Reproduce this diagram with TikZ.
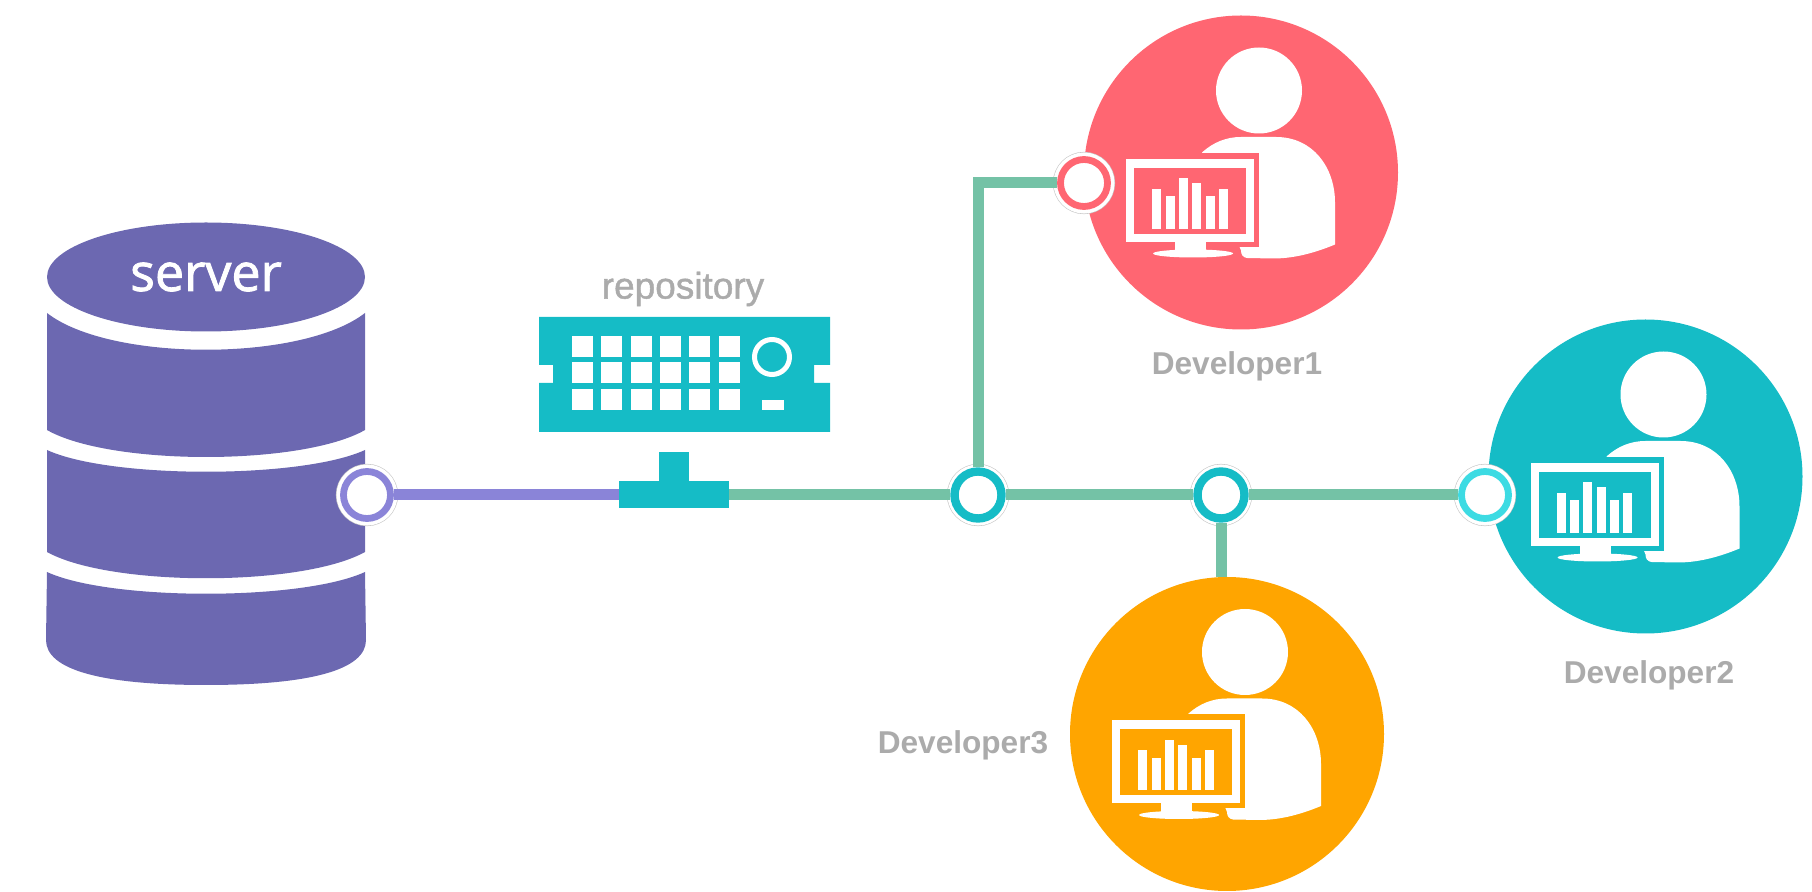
\documentclass[tikz,border=0pt]{standalone}
\usepackage{fontspec}
\setmainfont{Liberation Sans}
\newfontfamily\serverfont[FakeBold=1.6]{Open Sans}
\newfontfamily\repofont[FakeBold=1.2]{Liberation Sans}
\usepackage{xcolor}
\usetikzlibrary{shapes.geometric}
\definecolor{srvpurple}{HTML}{6C68B1}
\definecolor{linepurple}{HTML}{8A84D8}
\definecolor{linegreen}{HTML}{74C2A6}
\definecolor{repocyan}{HTML}{15BCC6}
\definecolor{portcyan}{HTML}{3DDBE3}
\definecolor{devred}{HTML}{FF6672}
\definecolor{devorange}{HTML}{FFA500}
\definecolor{labelgray}{HTML}{ABABAB}
\tikzset{
 port/.style={circle,draw=#1,line width=3.4pt,fill=white,minimum size=23.5pt,inner sep=0pt,
  preaction={draw=gray!45,line width=7.6pt},
  preaction={draw=white,line width=7pt}},
 dev/.style={circle,fill=#1,minimum size=157pt,inner sep=0pt},
 link/.style={line width=5.5pt,draw=#1},
 devlabel/.style={text=labelgray,font=\bfseries\fontsize{15.8}{18}\selectfont},
 devicon/.pic={
  \fill[white] (18,-82) circle[radius=43];
  \fill[white] (-39,-20) .. controls (-28,-30) and (-15,-35.5) .. (0,-35.5) -- (35,-35.5)
   .. controls (72,-35.5) and (94,-5) .. (94,30) -- (94,72)
   .. controls (70,82) and (50,86) .. (32,86) -- (6,85.5)
   .. controls (2,85) and (0,82) .. (0,78) -- cycle;
  \fill[#1] (-46,-19.5) rectangle (18,74.5);
  \fill[white] (-115,-13.5) rectangle (13,69.5);
  \fill[#1] (-107,-4.5) rectangle (5,61.5);
  \foreach \t[count=\i] in {16.5,24,6,11,24,16.5} {
   \fill[white] ({-88.8+(\i-1)*13.33},\t) rectangle ({-79.8+(\i-1)*13.33},56.5);
  }
  \fill[white] (-66,69.5) rectangle (-35,79);
  \fill[white] (-48,81) ellipse[x radius=40,y radius=4];
 },
}
\begin{document}
\begin{tikzpicture}[x=.5pt,y=-.5pt]
    \useasboundingbox (0,0) rectangle (1812,892);
    \node[ellipse,fill=srvpurple,minimum width=159pt,minimum height=54.5pt,inner sep=0pt,
     text=white,font=\serverfont\fontsize{26}{30}\selectfont] (srvtop) at (206,277) {\raisebox{-1pt}{server}};
    \fill[srvpurple] (47,313) .. controls (110,362) and (302,362) .. (365,313) -- (365,430)
     .. controls (302,466) and (110,466) .. (47,430) -- cycle;
    \fill[srvpurple] (47,450) .. controls (110,479) and (302,479) .. (365,450) -- (365,552)
     .. controls (302,587) and (110,587) .. (47,552) -- cycle;
    \fill[srvpurple] (47,572) .. controls (110,601) and (302,601) .. (365,572) -- (366,640)
     .. controls (366,670) and (310,685) .. (206,685)
     .. controls (102,685) and (46,670) .. (46,640) -- cycle;

    \node[text=labelgray,font=\repofont\fontsize{18.5}{22}\selectfont] (repolabel) at (683,289) {repository};
    \fill[repocyan] (539,317) -- (830,317) -- (830,365) -- (814,365) -- (814,383) -- (830,383)
     -- (830,432) -- (539,432) -- (539,383) -- (553,383) -- (553,365) -- (539,365) -- cycle;
    \foreach \y in {336,362.5,389} {
        \foreach \i in {0,...,5} {
            \fill[white] ({572+\i*29.33},\y) rectangle ({593+\i*29.33},\y+21);
        }
    }
    \draw[white,line width=2.5pt] (772,357) circle[radius=17.5];
    \fill[white] (762,400) rectangle (784,410);

    \node[fill=repocyan,minimum width=55pt,minimum height=13.5pt,inner sep=0pt] (tee) at (674,495) {};
    \node[fill=repocyan,minimum width=15pt,minimum height=15pt,inner sep=0pt] (teestem) at (674,467.5) {};

    \node[dev=devred] (dev1) at (1241,172.5) {};
    \node[dev=repocyan] (dev2) at (1645.5,476.5) {};
    \node[dev=devorange] (dev3) at (1227,734) {};
    \pic at (dev1) {devicon=devred};
    \pic at (dev2) {devicon=repocyan};
    \pic at (dev3) {devicon=devorange};

    \node[port=linepurple] (srvport) at (367,495) {};
    \node[port=repocyan,line width=4.2pt] (j1) at (978,495) {};
    \node[port=repocyan,line width=4.2pt] (j2) at (1221,495) {};
    \node[port=portcyan] (port2) at (1485,495) {};
    \node[port=devred] (port1) at (1084,183) {};

    \draw[link=linepurple] (srvport) -- (tee);
    \draw[link=linegreen] (tee) -- (j1);
    \draw[link=linegreen] (j1) -- (j2);
    \draw[link=linegreen] (j2) -- (port2);
    \draw[link=linegreen] (j1) |- (port1);
    \draw[link=linegreen] (j2) -- (j2 |- dev3.north);

    \node[devlabel] (label1) at (1237,366) {Developer1};
    \node[devlabel] (label2) at (1649,675) {Developer2};
    \node[devlabel] (label3) at (963,745) {Developer3};
\end{tikzpicture}
\end{document}
